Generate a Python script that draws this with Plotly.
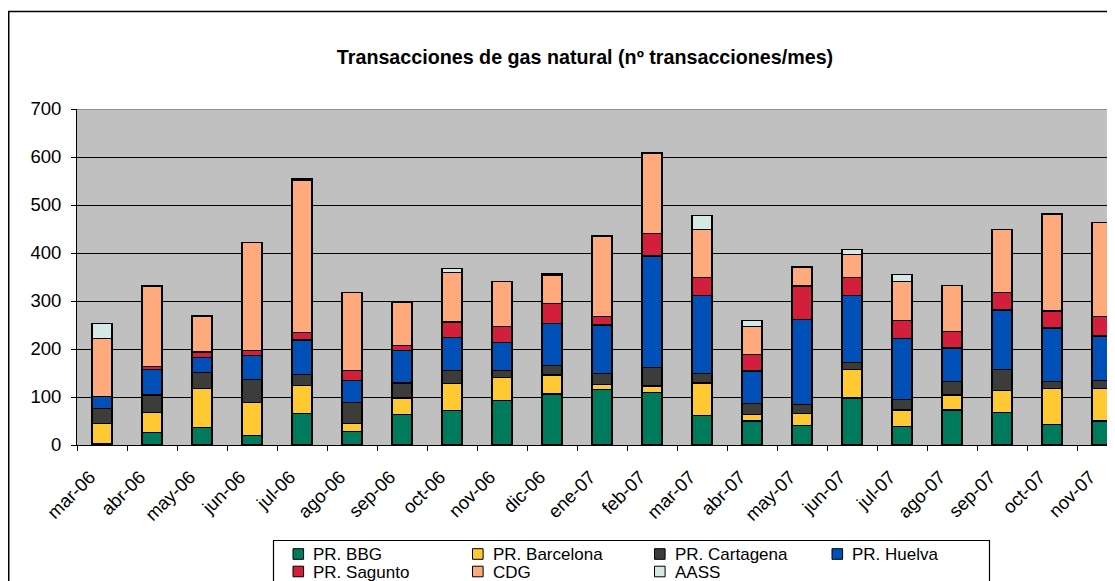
import plotly.graph_objects as go

months = ["mar-06", "abr-06", "may-06", "jun-06", "jul-06", "ago-06", "sep-06", "oct-06",
          "nov-06", "dic-06", "ene-07", "feb-07", "mar-07", "abr-07", "may-07", "jun-07",
          "jul-07", "ago-07", "sep-07", "oct-07", "nov-07"]

pr_bbg       = [3, 26, 37, 20, 65, 28, 64, 72, 92, 106, 115, 110, 62, 50, 41, 98, 39, 73, 68, 42, 50]
pr_barcelona = [42, 41, 80, 69, 59, 17, 34, 56, 48, 40, 11, 13, 67, 14, 24, 59, 34, 31, 45, 75, 67]
pr_cartagena = [31, 37, 34, 48, 23, 44, 31, 27, 15, 20, 23, 38, 20, 23, 20, 15, 22, 28, 45, 15, 18]
pr_huelva    = [25, 54, 32, 49, 72, 46, 68, 69, 59, 87, 101, 233, 163, 67, 176, 140, 127, 70, 123, 112, 92]
pr_sagunto   = [0, 5, 11, 11, 15, 20, 11, 32, 33, 42, 17, 47, 37, 34, 70, 37, 38, 34, 37, 35, 40]
cdg          = [121, 168, 75, 225, 317, 163, 90, 104, 93, 59, 167, 166, 100, 59, 40, 48, 80, 96, 131, 202, 196]
aass         = [31, 0, 0, 0, 3, 0, 0, 8, 0, 4, 2, 3, 29, 13, 0, 11, 15, 0, 0, 0, 0]

series_names = ["PR. BBG", "PR. Barcelona", "PR. Cartagena", "PR. Huelva", "PR. Sagunto", "CDG", "AASS"]
series_values = [pr_bbg, pr_barcelona, pr_cartagena, pr_huelva, pr_sagunto, cdg, aass]
series_colors = ["#007A5C", "#FFC933", "#3C3D3A", "#0050B8", "#D41F3C", "#FFAA7D", "#D4E8E5"]

title_text = "Transacciones de gas natural (nº transacciones/mes)"
y_ticks = [0, 100, 200, 300, 400, 500, 600, 700]
y_max = 700

FONT = "Liberation Sans, Arial, sans-serif"
FS = 18.5
LEG_FS = 17
OFF = 8                      # page body margin offset
W, H = 1115 - OFF, 581 - OFF
ML, MT = 77 - OFF, 109 - OFF
MB = H - (445 - OFF)
PW = W - ML
PH = H - MT - MB
CAT_PX = 50


def px_x(x):
    # page pixel -> paper coordinate
    return (x - OFF - ML) / PW


def px_y(y):
    return (H - MB - (y - OFF)) / PH


fig = go.Figure()
for name, vals, col in zip(series_names, series_values, series_colors):
    fig.add_trace(go.Bar(
        x=months, y=[v if v else None for v in vals], name=name,
        marker=dict(color=col, line=dict(color="#000000", width=1.3)),
        showlegend=False,
    ))

shapes = []
annotations = []

# outer chart border (clipped by the window on right and bottom)
shapes.append(dict(type="rect", xref="paper", yref="paper",
                   x0=px_x(OFF + 0.75), x1=px_x(1140), y0=px_y(600), y1=px_y(11.5),
                   line=dict(color="#000000", width=1.5), layer="below"))

# top edge of the plot area (grey)
shapes.append(dict(type="line", xref="paper", yref="y",
                   x0=0, x1=1, y0=y_max, y1=y_max,
                   line=dict(color="#808080", width=1.5), layer="above"))

# legend box
shapes.append(dict(type="rect", xref="paper", yref="paper",
                   x0=px_x(273.5), x1=px_x(989.5), y0=px_y(600), y1=px_y(540.5),
                   line=dict(color="#000000", width=1.2), fillcolor="white", layer="above"))

col_x = [293, 472.5, 654.5, 832]
row_y = [554.0, 571.5]
sq = 10.6
for i, (name, col) in enumerate(zip(series_names, series_colors)):
    r, c = divmod(i, 4)
    cx, cy = col_x[c], row_y[r]
    shapes.append(dict(type="rect", xref="paper", yref="paper",
                       x0=px_x(cx), x1=px_x(cx + sq), y0=px_y(cy + sq / 2), y1=px_y(cy - sq / 2),
                       line=dict(color="#000000", width=1), fillcolor=col, layer="above"))
    annotations.append(dict(text=name, xref="paper", yref="paper",
                            x=px_x(cx + 18), y=px_y(cy + 0.5), xanchor="left", yanchor="middle",
                            showarrow=False, font=dict(family=FONT, size=LEG_FS, color="#000000")))

fig.update_layout(
    width=W, height=H,
    margin=dict(l=ML, r=0, t=MT, b=MB, autoexpand=False),
    paper_bgcolor="white",
    plot_bgcolor="#C0C0C0",
    barmode="stack",
    bargap=0.6,
    font=dict(family=FONT, size=FS, color="#000000"),
    title=dict(text="<b>" + title_text + "</b>", xref="container", yref="container",
               x=(585 - OFF) / W, y=1 - (57 - OFF) / H, xanchor="center", yanchor="middle",
               font=dict(family=FONT, size=19.7, color="#000000")),
    shapes=shapes,
    annotations=annotations,
    showlegend=False,
)

fig.update_xaxes(
    type="category",
    range=[-0.5, -0.5 + PW / CAT_PX],
    showline=True, linecolor="#000000", linewidth=1,
    ticks="outside", ticklen=5, tickcolor="#000000", tickwidth=1,
    tickson="boundaries",
    tickangle=-45,
    ticklabelshift=-12,
    ticklabelstandoff=13,
    tickfont=dict(family=FONT, size=FS, color="#000000"),
    showgrid=False, zeroline=False,
)
fig.update_yaxes(
    range=[0, y_max],
    tickvals=y_ticks,
    showline=True, linecolor="#000000", linewidth=1,
    ticks="outside", ticklen=5, tickcolor="#000000", tickwidth=1,
    ticklabelstandoff=6,
    showgrid=True, gridcolor="#000000", gridwidth=1,
    zeroline=False,
    tickfont=dict(family=FONT, size=FS, color="#000000"),
)

fig.write_html("out.html")
